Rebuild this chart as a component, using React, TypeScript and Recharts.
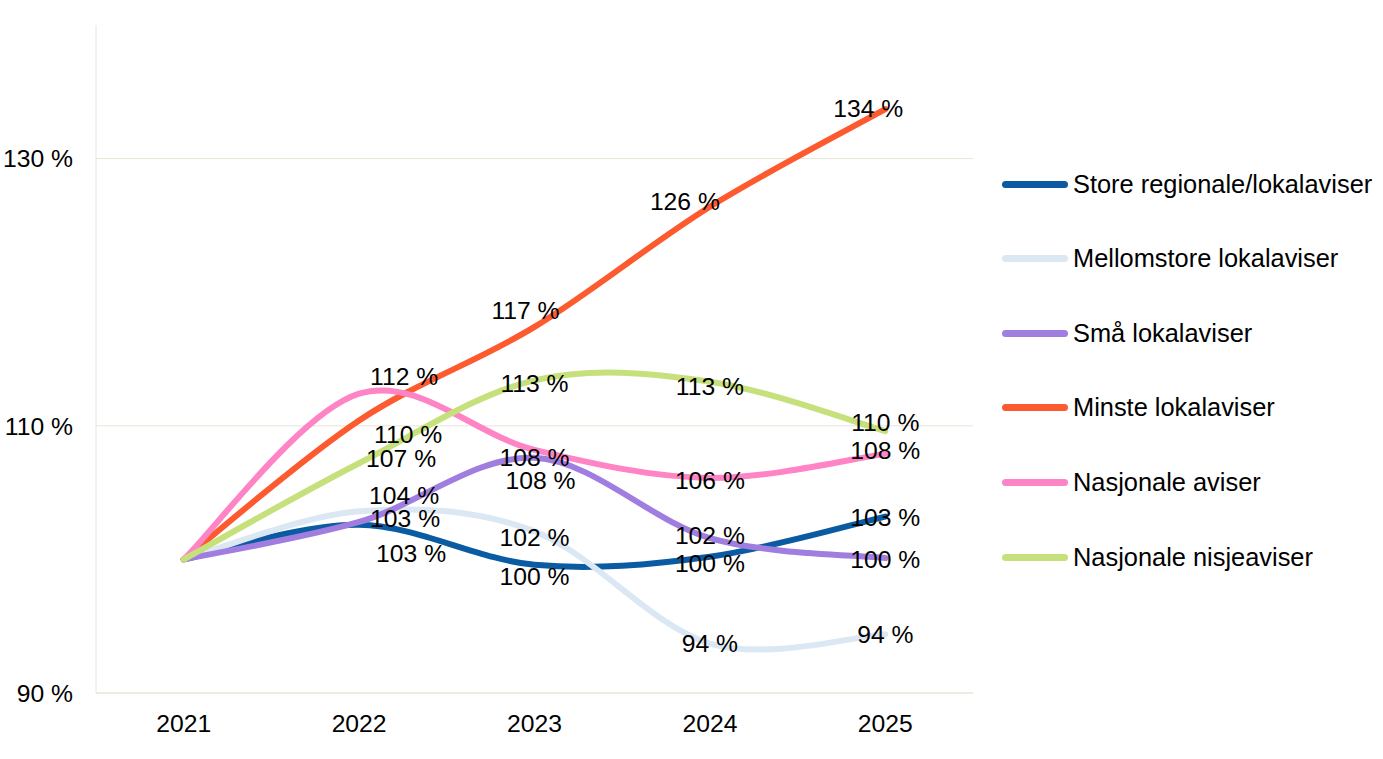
import React from "react";
import { LineChart, Line, XAxis, YAxis, CartesianGrid, LabelList } from "recharts";

const YEARS = ["2021", "2022", "2023", "2024", "2025"];
const STORE = [100, 102.6, 99.6, 100.2, 103.2];
const MELLOM = [100, 103.6, 102.1, 93.7, 94.4];
const SMA = [100, 102.8, 107.6, 101.6, 100.1];
const MINSTE = [100, 110.4, 117.4, 126.4, 133.7];
const NASJONALE = [100, 112.4, 108.2, 106.1, 107.9];
const NISJE = [100, 107.2, 113.4, 113.3, 109.6];
const Y_TICKS = [90, 110, 130];

const FONT = "Arial, 'Liberation Sans', sans-serif";
const AXIS_COLOR = "#ebe4d6";

const SERIES = [
  { key: "store", name: "Store regionale/lokalaviser", values: STORE, color: "#0b5ba3" },
  { key: "mellom", name: "Mellomstore lokalaviser", values: MELLOM, color: "#dbe8f4" },
  { key: "sma", name: "Små lokalaviser", values: SMA, color: "#a07ee0" },
  { key: "minste", name: "Minste lokalaviser", values: MINSTE, color: "#fd5a30" },
  { key: "nasjonale", name: "Nasjonale aviser", values: NASJONALE, color: "#ff84c6" },
  { key: "nisje", name: "Nasjonale nisjeaviser", values: NISJE, color: "#c6e07c" },
];

// label centre offsets (px) from each point, to mimic the hand-placed labels
const LABEL_OFFSETS: Record<string, number[][]> = {
  store: [[0, 0], [52, 29], [0, 12], [0, 7], [0, 1]],
  mellom: [[0, 0], [45, -16], [0, 6], [0, 0], [0, 0]],
  sma: [[0, 0], [46, -3], [6, 23], [0, -3], [0, 1]],
  minste: [[0, 0], [49, 14], [-9, -16], [-25, -5], [-17, -1]],
  nasjonale: [[0, 0], [45, -17], [0, 8], [0, 3], [0, -3]],
  nisje: [[0, 0], [42, -5], [0, 3], [0, 5], [0, -9]],
};

const data = YEARS.map((year, i) => {
  const row: Record<string, string | number> = { year };
  SERIES.forEach((s) => {
    row[s.key] = s.values[i];
  });
  return row;
});

// Excel-like smoothed line (Catmull-Rom through the points)
function excelCurve(context: any) {
  let pts: number[][] = [];
  return {
    areaStart() {},
    areaEnd() {},
    lineStart() {
      pts = [];
    },
    point(x: number, y: number) {
      pts.push([+x, +y]);
    },
    lineEnd() {
      const n = pts.length;
      if (!n) return;
      context.moveTo(pts[0][0], pts[0][1]);
      const t = 1 / 6;
      for (let i = 0; i < n - 1; i++) {
        const p0 = pts[Math.max(i - 1, 0)];
        const p1 = pts[i];
        const p2 = pts[i + 1];
        const p3 = pts[Math.min(i + 2, n - 1)];
        context.bezierCurveTo(
          p1[0] + (p2[0] - p0[0]) * t,
          p1[1] + (p2[1] - p0[1]) * t,
          p2[0] - (p3[0] - p1[0]) * t,
          p2[1] - (p3[1] - p1[1]) * t,
          p2[0],
          p2[1]
        );
      }
    },
  };
}

const makeLabel = (offsets: number[][]) => (props: any) => {
  const { index, value } = props;
  const x = props.x ?? props.viewBox?.x;
  const y = props.y ?? props.viewBox?.y;
  if (index === 0 || x == null || y == null) return null;
  const [dx, dy] = offsets[index] || [0, 0];
  return (
    <text
      key={`lbl-${index}`}
      x={x + dx}
      y={y + dy}
      textAnchor="middle"
      dominantBaseline="central"
      fontSize={24.7}
      fontFamily={FONT}
      fill="#000"
    >
      {`${Math.round(Number(value))} %`}
    </text>
  );
};

function LegendBox() {
  return (
    <div style={{ position: "absolute", left: 1002, top: 0 }}>
      {SERIES.map((s, i) => (
        <div
          key={s.key}
          style={{
            position: "absolute",
            top: 184 + i * 74.6 - 16,
            height: 32,
            display: "flex",
            alignItems: "center",
            whiteSpace: "nowrap",
          }}
        >
          <span
            style={{
              display: "inline-block",
              width: 66,
              height: 7,
              borderRadius: 4,
              background: s.color,
              marginRight: 5,
            }}
          />
          <span style={{ fontSize: 25.4, color: "#000", fontFamily: FONT }}>{s.name}</span>
        </div>
      ))}
    </div>
  );
}

export default function App() {
  return (
    <div
      style={{
        position: "absolute",
        left: 0,
        top: 0,
        width: 1383,
        height: 759,
        background: "#fff",
        fontFamily: FONT,
      }}
    >
      <LineChart
        width={1383}
        height={759}
        data={data}
        margin={{ top: 25, right: 410, bottom: 0, left: 0 }}
      >
        <CartesianGrid
          vertical={false}
          horizontalValues={Y_TICKS}
          syncWithTicks
          stroke={AXIS_COLOR}
          strokeWidth={1}
        />
        <XAxis
          dataKey="year"
          height={66}
          padding={{ left: 87.7, right: 87.7 }}
          axisLine={{ stroke: AXIS_COLOR, strokeWidth: 1 }}
          tickLine={false}
          tickSize={0}
          tickMargin={21}
          tick={{ fontSize: 24.7, fill: "#000", fontFamily: FONT }}
        />
        <YAxis
          width={96}
          domain={[90, 140]}
          ticks={Y_TICKS}
          tickFormatter={(v) => `${v} %`}
          axisLine={{ stroke: AXIS_COLOR, strokeWidth: 1 }}
          tickLine={false}
          tickSize={0}
          tickMargin={23}
          tick={{ fontSize: 24.7, fill: "#000", fontFamily: FONT }}
        />
        {SERIES.map((s) => (
          <Line
            key={s.key}
            dataKey={s.key}
            name={s.name}
            type={excelCurve as any}
            stroke={s.color}
            strokeWidth={6}
            strokeLinecap="round"
            dot={false}
            activeDot={false}
            isAnimationActive={false}
          />
        ))}
        {SERIES.map((s) => (
          <Line
            key={`${s.key}-labels`}
            dataKey={s.key}
            type="linear"
            stroke="none"
            strokeWidth={0}
            dot={false}
            activeDot={false}
            legendType="none"
            isAnimationActive={false}
          >
            <LabelList dataKey={s.key} content={makeLabel(LABEL_OFFSETS[s.key])} />
          </Line>
        ))}
      </LineChart>
      <LegendBox />
    </div>
  );
}
